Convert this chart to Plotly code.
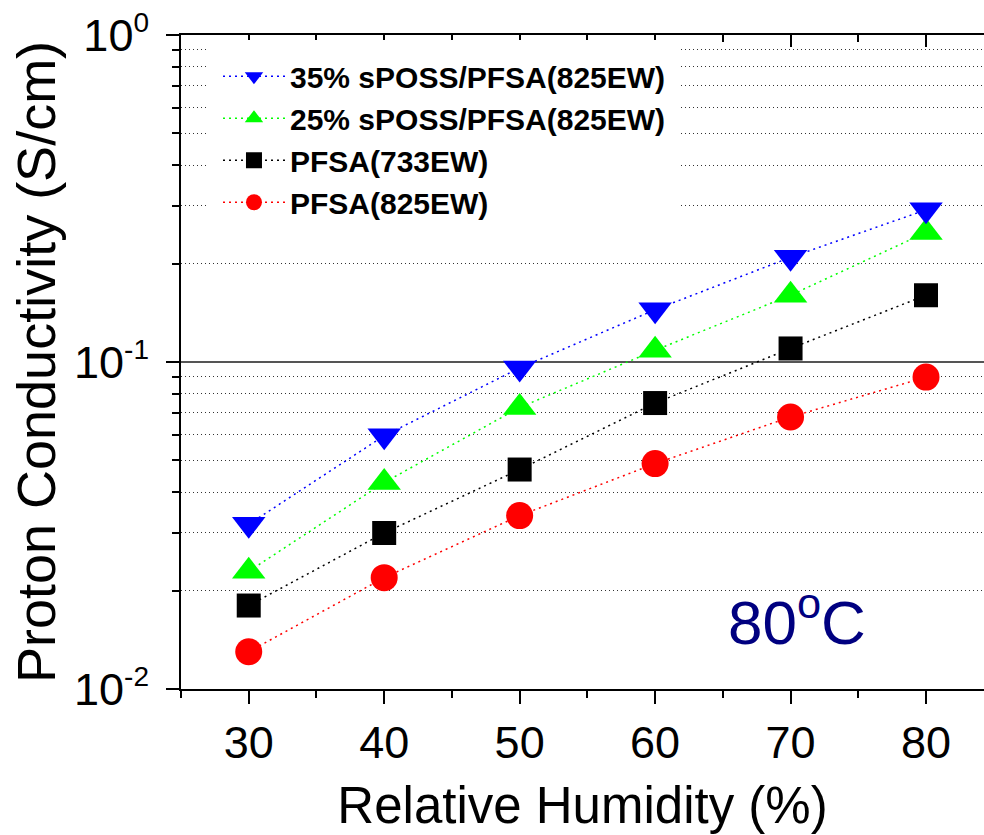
import plotly.graph_objects as go

# ---- data ----
humidity = [30, 40, 50, 60, 70, 80]

series_names = [
    "35% sPOSS/PFSA(825EW)",
    "25% sPOSS/PFSA(825EW)",
    "PFSA(733EW)",
    "PFSA(825EW)",
]
sposs35 = [0.0319, 0.0595, 0.0959, 0.1445, 0.209, 0.292]
sposs25 = [0.0229, 0.0428, 0.0726, 0.1086, 0.160, 0.249]
pfsa733 = [0.0180, 0.0300, 0.0469, 0.0749, 0.110, 0.160]
pfsa825 = [0.0130, 0.0219, 0.0339, 0.0489, 0.0679, 0.0899]

x_ticks = [30, 40, 50, 60, 70, 80]
x_minor = [25, 35, 45, 55, 65, 75]
y_ticks = [0.01, 0.1, 1]
y_exponents = ["-2", "-1", "0"]
y_minor = [0.02, 0.03, 0.04, 0.05, 0.06, 0.07, 0.08, 0.09,
           0.2, 0.3, 0.4, 0.5, 0.6, 0.7, 0.8, 0.9]

FONT = "Liberation Sans, Arial, sans-serif"
y_ticktext = ["10<sup><span style='font-size:28px'>%s</span></sup>" % e
              for e in y_exponents]

styles = {
    series_names[0]: dict(color="#0000ff", symbol="triangle-down", size=29),
    series_names[1]: dict(color="#00ff00", symbol="triangle-up", size=29),
    series_names[2]: dict(color="#000000", symbol="square", size=24),
    series_names[3]: dict(color="#ff0000", symbol="circle", size=27),
}
values = {
    series_names[0]: sposs35,
    series_names[1]: sposs25,
    series_names[2]: pfsa733,
    series_names[3]: pfsa825,
}

fig = go.Figure()
# draw bottom series first so the blue triangles end up on top
for name in reversed(series_names):
    st = styles[name]
    fig.add_trace(go.Scatter(
        x=humidity, y=values[name], name=name,
        mode="lines+markers",
        line=dict(color=st["color"], width=1.5, dash="2px,4px"),
        marker=dict(color=st["color"], symbol=st["symbol"], size=st["size"],
                    line=dict(width=0)),
    ))

# empty trace to activate the top axis
fig.add_trace(go.Scatter(x=[], y=[], xaxis="x2", yaxis="y",
                         showlegend=False, hoverinfo="skip"))

fig.update_layout(
    width=984, height=835,
    margin=dict(l=181, r=0, t=35, b=146),
    paper_bgcolor="white", plot_bgcolor="white",
    font=dict(family=FONT, color="black"),
    showlegend=True,
    legend=dict(
        x=0.0336, y=0.992, xanchor="left", yanchor="top",
        bgcolor="white", bordercolor="white", borderwidth=10,
        font=dict(family=FONT, size=30, color="black", weight="bold"),
        traceorder="reversed",
        itemwidth=62,
        tracegroupgap=0,
    ),
    xaxis=dict(
        range=[25, 84.28], showgrid=False, zeroline=False,
        showline=True, linecolor="black", linewidth=2,
        ticks="outside", ticklen=13, tickwidth=2, tickcolor="black",
        tickmode="array", tickvals=x_ticks,
        tickfont=dict(family=FONT, size=45, color="black"),
        minor=dict(tickmode="array", tickvals=x_minor, ticks="outside",
                   ticklen=7, tickwidth=2, tickcolor="black", showgrid=False),
        title=dict(text="Relative Humidity (%)",
                   font=dict(family=FONT, size=51, color="black"),
                   standoff=20),
    ),
    xaxis2=dict(
        overlaying="x", side="top", anchor="y", matches="x",
        range=[25, 84.28], showgrid=False, zeroline=False,
        showline=True, linecolor="black", linewidth=2,
        ticks="inside", ticklen=12, tickwidth=2, tickcolor="black",
        tickmode="array", tickvals=x_ticks, showticklabels=False,
        minor=dict(tickmode="array", tickvals=x_minor, ticks="inside",
                   ticklen=7, tickwidth=2, tickcolor="black", showgrid=False),
    ),
    yaxis=dict(
        type="log", range=[-2, 0],
        showline=True, linecolor="black", linewidth=2, zeroline=False,
        ticks="outside", ticklen=13, tickwidth=2, tickcolor="black",
        tickmode="array", tickvals=y_ticks, ticktext=y_ticktext,
        tickfont=dict(family=FONT, size=45, color="black"),
        ticklabelstandoff=8,
        showgrid=True, gridcolor="#555555", gridwidth=1.5,
        minor=dict(tickmode="array", tickvals=y_minor, ticks="outside",
                   ticklen=7, tickwidth=2, tickcolor="black",
                   showgrid=True, gridcolor="#333333", gridwidth=1,
                   griddash="1px,3px"),
        title=dict(text="Proton Conductivity (S/cm)",
                   font=dict(family=FONT, size=54, color="black"),
                   standoff=1),
    ),
    annotations=[dict(
        text="80<sup>o</sup>C", xref="paper", yref="paper",
        x=0.767, y=0.109, xanchor="center", yanchor="middle",
        showarrow=False,
        font=dict(family=FONT, size=62, color="#000080"),
    )],
)

fig.write_html("out.html")
